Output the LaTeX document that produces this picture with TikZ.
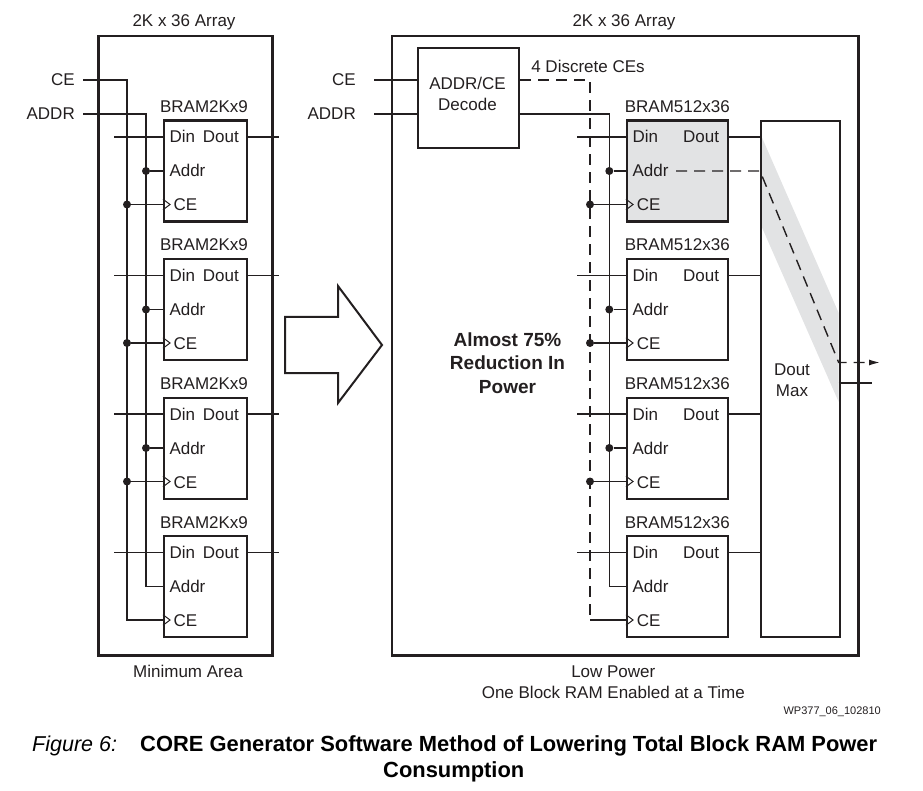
\documentclass[tikz,border=0pt]{standalone}
\usepackage{fontspec}
\setmainfont{Liberation Sans}
\usetikzlibrary{arrows.meta,calc}
\definecolor{ink}{RGB}{35,31,32}
\definecolor{bandgray}{RGB}{226,227,228}
\begin{document}
\begin{tikzpicture}[x=1pt,y=-1pt,
  lbl/.style={font=\fontsize{17}{20}\selectfont, text=ink, inner sep=0pt},
  boldlbl/.style={font=\fontsize{19}{22}\selectfont\bfseries, text=ink, inner sep=0pt},
  caplbl/.style={text=black, inner sep=0pt},
  frame/.style={draw=ink, line width=2.5pt, inner sep=0pt, anchor=north west},
  blk/.style={draw=ink, line width=2.3pt, inner sep=0pt, anchor=north west, minimum height=101pt},
  wire/.style={draw=ink, line width=1.4pt},
  dwire/.style={draw=ink, line width=1.4pt, dash pattern=on 11pt off 7pt},
  jdot/.style={circle, fill=ink, inner sep=0pt, minimum size=8pt},
  clk/.style={draw=ink, line width=1pt},
]
\useasboundingbox (0,0) rectangle (923,791);

% ---------- outer frames and titles ----------
\node[frame, minimum width=174pt, minimum height=619pt] (LA) at (97,35) {};
\node[frame, minimum width=466.3pt, minimum height=619pt] (RA) at (390.7,35) {};
\node[lbl, anchor=base] (LAt) at (184,27) {2K x 36 Array};
\node[lbl, anchor=base] (RAt) at (624,27) {2K x 36 Array};

% ---------- big arrow ----------
\draw[ink, line width=2pt, line join=miter]
  (285,317) -- (338,317) -- (338,286) -- (382,345) -- (338,403) -- (338,373) -- (285,373) -- cycle;

% ---------- centre text ----------
\node[boldlbl, anchor=base] (p1) at (507.5,346) {Almost 75\%};
\node[boldlbl, anchor=base] (p2) at (507.5,369.5) {Reduction In};
\node[boldlbl, anchor=base] (p3) at (507.5,393) {Power};

% ---------- left inputs ----------
\node[lbl, anchor=base east] (lce) at (75,86) {CE};
\node[lbl, anchor=base east] (laddr) at (75,120) {ADDR};
\coordinate (lceS) at (83,80);
\coordinate (laddrS) at (83,114);
\coordinate (LbusC) at (127,80);
\coordinate (LbusA) at (146,114);

% ---------- right inputs and decoder ----------
\node[lbl, anchor=base east] (rce) at (356,86) {CE};
\node[lbl, anchor=base east] (raddr) at (356,120) {ADDR};
\coordinate (rceS) at (374,80);
\coordinate (raddrS) at (374,114);
\node[blk, minimum width=101pt, minimum height=100pt] (dec) at (417,47) {};
\node[lbl, anchor=base] (dect1) at (467.5,90) {ADDR/CE};
\node[lbl, anchor=base] (dect2) at (467.5,111) {Decode};
\node[lbl, anchor=base] (disc) at (588,72.7) {4 Discrete CEs};
\coordinate (RbusC) at (590,80);
\coordinate (RbusA) at (609.3,114);

% ---------- mux ----------
\fill[bandgray] (760,133) -- (838.7,313) -- (838.7,402) -- (760,223) -- cycle;
\node[blk, minimum width=78.7pt, minimum height=516pt] (mux) at (760,120) {};
\node[lbl, anchor=base] (mux1) at (792,375.3) {Dout};
\node[lbl, anchor=base] (mux2) at (792,396.7) {Max};

% ---------- blocks ----------
\foreach \i in {1,2,3,4}{
  \pgfmathsetmacro\tp{119.5+138.5*(\i-1)}
  % left block
  \node[blk, minimum width=83pt] (L\i) at (163,\tp) {};
  \node[lbl, anchor=base] (L\i t) at (204,\tp-7) {BRAM2Kx9};
  \node[lbl, anchor=base west] (L\i din) at (169.3,\tp+23.5) {Din};
  \node[lbl, anchor=base east] (L\i dout) at (239,\tp+23.5) {Dout};
  \node[lbl, anchor=base west] (L\i addr) at (169.3,\tp+57.5) {Addr};
  \node[lbl, anchor=base west] (L\i ce) at (173.5,\tp+91.5) {CE};
  \coordinate (L\i Di) at (163,\tp+17.5);
  \coordinate (L\i Ai) at (163,\tp+51.5);
  \coordinate (L\i Ci) at (163,\tp+85);
  \coordinate (L\i Do) at (246,\tp+17.5);
  \coordinate (L\i DiS) at (114,\tp+17.5);
  \coordinate (L\i DoE) at (279.3,\tp+17.5);
  \draw[wire] (L\i DiS) -- (L\i Di);
  \draw[wire] (L\i Do) -- (L\i DoE);
  \draw[clk] ($(L\i Ci)+(0,-5.3)$) -- ($(L\i Ci)+(7,0)$) -- ($(L\i Ci)+(0,5.3)$);
  % right block
  \ifnum\i=1
    \node[blk, minimum width=101pt, fill=bandgray] (R\i) at (626,\tp) {};
  \else
    \node[blk, minimum width=101pt] (R\i) at (626,\tp) {};
  \fi
  \node[lbl, anchor=base] (R\i t) at (677.3,\tp-7) {BRAM512x36};
  \node[lbl, anchor=base west] (R\i din) at (632.3,\tp+23.5) {Din};
  \node[lbl, anchor=base east] (R\i dout) at (719.3,\tp+23.5) {Dout};
  \node[lbl, anchor=base west] (R\i addr) at (632.3,\tp+57.5) {Addr};
  \node[lbl, anchor=base west] (R\i ce) at (636.7,\tp+91.5) {CE};
  \coordinate (R\i Di) at (626,\tp+17.5);
  \coordinate (R\i Ai) at (626,\tp+51.5);
  \coordinate (R\i Ci) at (626,\tp+85);
  \coordinate (R\i Do) at (727,\tp+17.5);
  \coordinate (R\i DiS) at (577.3,\tp+17.5);
  \draw[wire] (R\i DiS) -- (R\i Di);
  \draw[wire] (R\i Do) -- (mux.west |- R\i Do);
  \draw[clk] ($(R\i Ci)+(0,-5.3)$) -- ($(R\i Ci)+(7,0)$) -- ($(R\i Ci)+(0,5.3)$);
}

% ---------- left buses ----------
\draw[wire] (lceS) -- (LbusC) |- (L4Ci);
\draw[wire] (laddrS) -- (LbusA) |- (L4Ai);
\foreach \i in {1,2,3}{
  \node[jdot] (LdC\i) at (LbusC |- L\i Ci) {};
  \node[jdot] (LdA\i) at (LbusA |- L\i Ai) {};
  \draw[wire] (LdC\i) -- (L\i Ci);
  \draw[wire] (LdA\i) -- (L\i Ai);
}

% ---------- right buses ----------
\draw[wire] (rceS) -- (dec.west |- rceS);
\draw[wire] (raddrS) -- (dec.west |- raddrS);
\draw[dwire] (dec.east |- rceS) -- (RbusC) -- (RbusC |- R4Ci);
\draw[wire] (RbusC |- R4Ci) -- (R4Ci);
\draw[wire] (dec.east |- raddrS) -- (RbusA) |- (R4Ai);
\foreach \i in {1,2,3}{
  \node[jdot] (RdC\i) at (RbusC |- R\i Ci) {};
  \node[jdot] (RdA\i) at (RbusA |- R\i Ai) {};
  \draw[wire] (RdC\i) -- (R\i Ci);
  \draw[wire] (RdA\i) -- (R\i Ai);
}

% ---------- selected path through mux ----------
\coordinate (R1Aout) at (676,171);
\coordinate (muxO1) at (838.7,362.5);
\coordinate (muxO1e) at (880,362.5);
\coordinate (muxO2) at (838.7,383);
\coordinate (muxO2e) at (872,383);
\draw[dwire, -{Latex[length=11pt,width=6pt]}] (R1Aout) -- (mux.west |- R1Aout) -- (muxO1) -- (muxO1e);
\draw[wire] (muxO2) -- (muxO2e);

% ---------- captions ----------
\node[lbl, anchor=base] (capL) at (188,677) {Minimum Area};
\node[lbl, anchor=base] (capR1) at (613.3,677) {Low Power};
\node[lbl, anchor=base] (capR2) at (613.3,698) {One Block RAM Enabled at a Time};
\node[font=\fontsize{11}{13}\selectfont, text=ink, inner sep=0pt, anchor=base east] (wp) at (881,714) {WP377\_06\_102810};
\node[caplbl, anchor=base west, font=\fontsize{21.5}{25}\selectfont\itshape] (fig) at (32,751) {Figure 6:};
\node[caplbl, anchor=base west, font=\fontsize{21.9}{25}\selectfont\bfseries] (figt1) at (140,751) {CORE Generator Software Method of Lowering Total Block RAM Power};
\node[caplbl, anchor=base west, font=\fontsize{21.9}{25}\selectfont\bfseries] (figt2) at (383,777.7) {Consumption};
\end{tikzpicture}
\end{document}
